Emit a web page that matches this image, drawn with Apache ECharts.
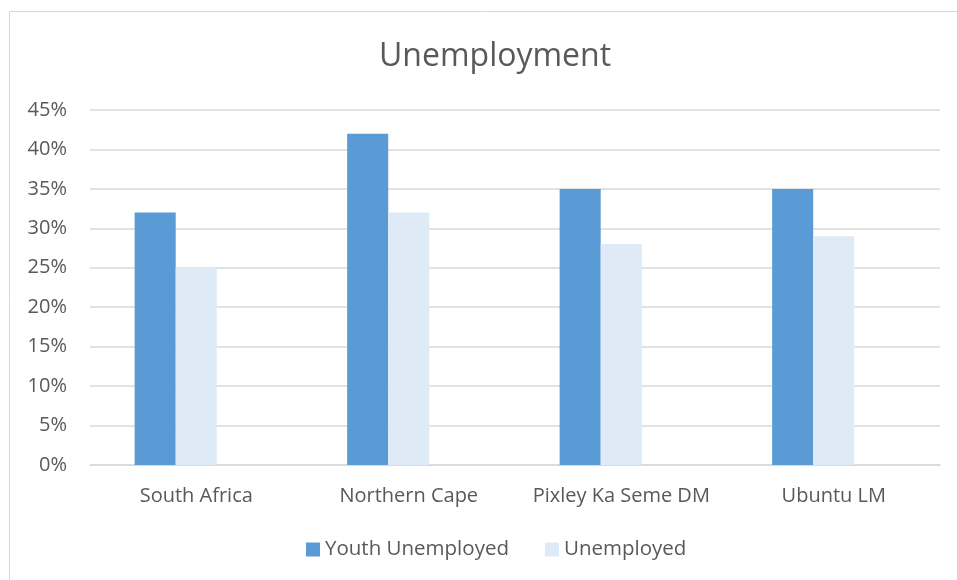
<!DOCTYPE html>
<html><head><meta charset="utf-8">
<script src="https://cdn.jsdelivr.net/npm/echarts@6/dist/echarts.min.js"></script>
<style>html,body{margin:0;padding:0;background:#fff}#c{width:957px;height:580px}</style>
</head><body><div id="c"></div>
<script>
const categories = ['South Africa', 'Northern Cape', 'Pixley Ka Seme DM', 'Ubuntu LM'];
const youthUnemployed = [32, 42, 35, 35];
const unemployed = [25, 32, 28, 29];
const emptySeries = [null, null, null, null];
const yTicks = [0, 5, 10, 15, 20, 25, 30, 35, 40, 45];

const chart = echarts.init(document.getElementById('c'));
const font = 'Open Sans';
chart.setOption({
  animation: false,
  graphic: [{type:'rect', shape:{x:9.5, y:11.5, width:1000, height:1000}, style:{fill:'none', stroke:'#d9d9d9', lineWidth:1}}],
  title: {text:'Unemployment', left:374, top:36, textStyle:{fontFamily:font, fontSize:32, fontWeight:'normal', color:'#595959'}},
  legend: {data:['Youth Unemployed','Unemployed'], bottom:15, left:301, itemWidth:14, itemHeight:14, itemGap:36, icon:'rect',
    textStyle:{fontFamily:font, fontSize:20.5, color:'#595959'}},
  grid: {left:90, right:17, top:110, bottom:115},
  xAxis: {type:'category', data:categories,
    axisLine:{lineStyle:{color:'#d9d9d9', width:1.5}}, axisTick:{show:false},
    axisLabel:{interval:0, fontFamily:font, fontSize:20, color:'#595959', margin:21}},
  yAxis: {type:'value', min:0, max:45, interval:5,
    axisLabel:{fontFamily:font, fontSize:20, color:'#595959', margin:23, formatter: v => yTicks.includes(v) ? v + '%' : ''},
    splitLine:{lineStyle:{color:'#d9d9d9', width:1.5}}, axisLine:{show:false}, axisTick:{show:false}},
  series: [
    {name:'Youth Unemployed', type:'bar', data:youthUnemployed, itemStyle:{color:'#5b9bd5'}, barGap:'0%', barCategoryGap:'42%'},
    {name:'Unemployed', type:'bar', data:unemployed, itemStyle:{color:'#deebf7'}, barGap:'0%', barCategoryGap:'42%'},
    {name:'blank', type:'bar', data:emptySeries, itemStyle:{color:'transparent'}, barGap:'0%', barCategoryGap:'42%'}
  ]
});
</script></body></html>
